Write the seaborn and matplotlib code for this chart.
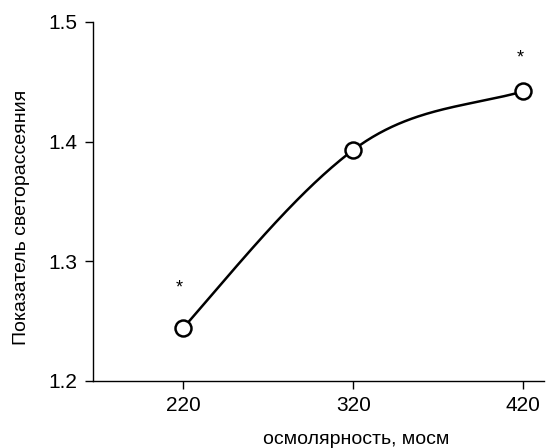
import numpy as np
import matplotlib
matplotlib.use('Agg')
import matplotlib.pyplot as plt
import seaborn as sns

# данные
osm = [220, 320, 420]
light = [1.244, 1.393, 1.442]
star_x = [218, 418]
star_y = [1.278, 1.470]
xticks = [220, 320, 420]
yticks = [1.2, 1.3, 1.4, 1.5]


def smooth(x, y, n=80):
    # гладкая кривая через точки (кубический Эрмит)
    x = np.asarray(x, float)
    y = np.asarray(y, float)
    sec = np.diff(y) / np.diff(x)
    m = np.zeros_like(y)
    m[0] = 1.1 * sec[0]
    m[-1] = 0.8 * sec[-1]
    for i in range(1, len(x) - 1):
        m[i] = 1.08 * 0.5 * (sec[i - 1] + sec[i])
    xs, ys = [], []
    for i in range(len(x) - 1):
        h = x[i + 1] - x[i]
        t = np.linspace(0, 1, n)
        h00 = 2 * t**3 - 3 * t**2 + 1
        h10 = t**3 - 2 * t**2 + t
        h01 = -2 * t**3 + 3 * t**2
        h11 = t**3 - t**2
        xs.append(x[i] + t * h)
        ys.append(h00 * y[i] + h10 * h * m[i] + h01 * y[i + 1] + h11 * h * m[i + 1])
    return np.concatenate(xs), np.concatenate(ys)


sns.set_theme(style="ticks")
plt.rcParams['font.family'] = ['Liberation Sans', 'DejaVu Sans']

fig = plt.figure(figsize=(5.46, 4.48), dpi=100)
ax = fig.add_axes([0.170, 0.1496, 0.826, 0.8014])

sx, sy = smooth(osm, light)
sns.lineplot(x=sx, y=sy, ax=ax, color='black', linewidth=1.8, sort=False, zorder=2)
ax.plot(osm, light, linestyle='none', marker='o', markersize=11.5,
        markerfacecolor='white', markeredgecolor='black', markeredgewidth=1.8, zorder=3)

for xs_, ys_ in zip(star_x, star_y):
    ax.text(xs_, ys_, '*', ha='center', va='center', fontsize=13, color='black')

ax.set_xlim(167, 432)
ax.set_ylim(1.2, 1.5)
ax.set_xticks(xticks)
ax.set_yticks(yticks)
ax.set_yticklabels([f'{v:.1f}' for v in yticks])
ax.tick_params(axis='both', labelsize=15, length=6, width=1, color='black',
               labelcolor='black', pad=5)
for s in ['top', 'right']:
    ax.spines[s].set_visible(False)
for s in ['left', 'bottom']:
    ax.spines[s].set_color('black')
    ax.spines[s].set_linewidth(1)

ax.set_xlabel('осмолярность, мосм', fontsize=14, color='black')
ax.set_ylabel('Показатель светорассеяния', fontsize=14, color='black')
ax.xaxis.set_label_coords(0.585, -0.138)
ax.yaxis.set_label_coords(-0.14, 0.455)

plt.savefig('out.png', dpi=100)
plt.close()
